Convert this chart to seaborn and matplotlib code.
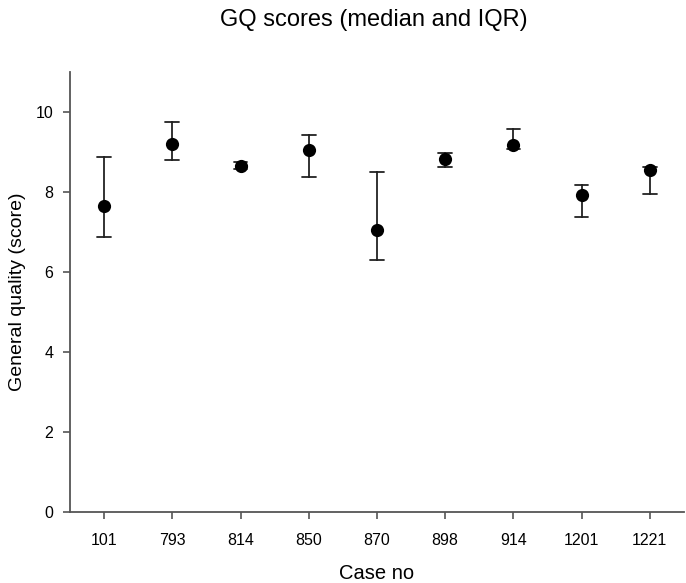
import matplotlib
matplotlib.use("Agg")
import matplotlib.pyplot as plt
import seaborn as sns
import pandas as pd

cases = ["101", "793", "814", "850", "870", "898", "914", "1201", "1221"]
median = [7.64, 9.20, 8.64, 9.06, 7.06, 8.82, 9.18, 7.92, 8.56]
q1 = [6.88, 8.79, 8.58, 8.37, 6.31, 8.63, 9.08, 7.37, 7.95]
q3 = [8.88, 9.74, 8.75, 9.42, 8.49, 8.97, 9.57, 8.18, 8.62]

rows = []
for c, lo, m, hi in zip(cases, q1, median, q3):
    for v in (lo, m, hi):
        rows.append({"case": c, "score": v})
df = pd.DataFrame(rows)

sns.set_style("ticks")
plt.rcParams["font.family"] = ["Liberation Sans", "DejaVu Sans"]
plt.rcParams["text.color"] = "black"
plt.rcParams["axes.labelcolor"] = "black"
plt.rcParams["xtick.labelcolor"] = "black"
plt.rcParams["ytick.labelcolor"] = "black"

fig = plt.figure(figsize=(6.86, 5.83), dpi=100)
ax = fig.add_axes([0.102, 0.1218, 0.895, 0.7547])

sns.pointplot(data=df, x="case", y="score", order=cases,
              estimator="median", errorbar=lambda v: (v.min(), v.max()),
              linestyle="none", color="black", marker="o", markersize=9.5,
              markeredgewidth=0,
              capsize=0.2, err_kws={"linewidth": 1.3, "color": "#222222"},
              ax=ax)

# keep the dots above the whiskers
for ln in ax.lines:
    if ln.get_marker() in ("o",):
        ln.set_zorder(5)
    else:
        ln.set_zorder(3)
for coll in ax.collections:
    coll.set_zorder(5)

ax.set_xlim(-0.5, 8.5)
ax.set_ylim(0, 11)
ax.set_yticks([0, 2, 4, 6, 8, 10])
ax.set_xlabel("Case no", fontsize=14.5, labelpad=12)
ax.set_ylabel("General quality (score)", fontsize=14, labelpad=7)
ax.tick_params(axis="x", labelsize=11.5, pad=10)
ax.tick_params(axis="y", labelsize=11.5, pad=7)
ax.tick_params(axis="both", length=5, width=1.2, color="#555555", direction="out")
for s in ["top", "right"]:
    ax.spines[s].set_visible(False)
for s in ["left", "bottom"]:
    ax.spines[s].set_color("#555555")
    ax.spines[s].set_linewidth(1.3)
fig.suptitle("GQ scores (median and IQR)", fontsize=17, x=0.545, y=0.985)

fig.savefig("out.png", dpi=100)
